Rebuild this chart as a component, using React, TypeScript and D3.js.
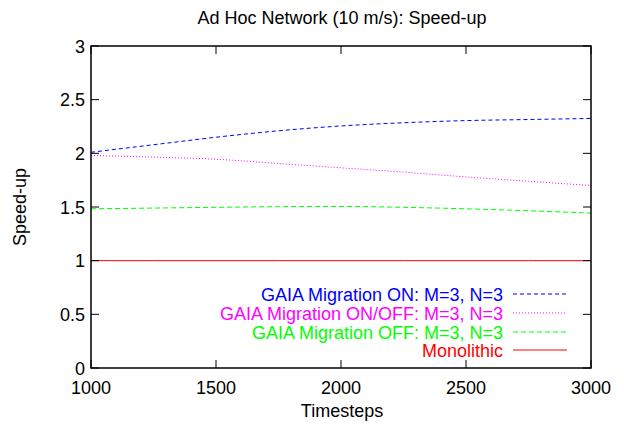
import React from "react";
import * as d3 from "d3";

const timesteps = [1000, 1250, 1500, 1750, 2000, 2250, 2500, 2750, 3000];
const migOn = [2.01, 2.08, 2.15, 2.21, 2.255, 2.285, 2.305, 2.315, 2.325];
const migOnOff = [1.98, 1.965, 1.945, 1.905, 1.865, 1.825, 1.78, 1.74, 1.7];
const migOff = [1.483, 1.49, 1.497, 1.503, 1.505, 1.497, 1.483, 1.465, 1.443];
const mono = [1, 1, 1, 1, 1, 1, 1, 1, 1];

const xTicks = [1000, 1500, 2000, 2500, 3000];
const yTicks = [0, 0.5, 1, 1.5, 2, 2.5, 3];

const series = [
  { name: "GAIA Migration ON: M=3, N=3", values: migOn, color: "#0000ff", dash: "4,3" },
  { name: "GAIA Migration ON/OFF: M=3, N=3", values: migOnOff, color: "#ff00ff", dash: "1,2" },
  { name: "GAIA Migration OFF: M=3, N=3", values: migOff, color: "#00ff00", dash: "5,3" },
  { name: "Monolithic", values: mono, color: "#ff0000", dash: null },
];

const W = 624;
const H = 425;
const margin = { top: 46, right: 33, bottom: 57, left: 91 };
const font = "'Liberation Sans', Arial, sans-serif";
const fs = 18;

export default function App() {
  const x = d3.scaleLinear().domain([1000, 3000]).range([margin.left, W - margin.right]);
  const y = d3.scaleLinear().domain([0, 3]).range([H - margin.bottom, margin.top]);
  const tick = 8;

  const line = (vals: number[]) =>
    d3
      .line<number>()
      .x((_, i) => x(timesteps[i]))
      .y((d) => y(d))
      .curve(d3.curveMonotoneX)(vals) || "";

  const legX = 503;
  const legY = [294, 313, 332, 350];

  return (
    <svg width={W} height={H} style={{ position: "absolute", left: 0, top: 0, background: "#fff" }} fontFamily={font}>
      <rect width={W} height={H} fill="#fff" />
      <text x={342} y={24} textAnchor="middle" fontSize={fs}>
        Ad Hoc Network (10 m/s): Speed-up
      </text>
      {series.map((s) => (
        <path
          key={s.name}
          d={line(s.values)}
          fill="none"
          stroke={s.color}
          strokeWidth={1}
          strokeDasharray={s.dash || undefined}
        />
      ))}
      {/* frame */}
      <rect
        x={margin.left}
        y={margin.top}
        width={W - margin.left - margin.right}
        height={H - margin.top - margin.bottom}
        fill="none"
        stroke="#000"
        strokeWidth={1.5}
      />
      {xTicks.map((t) => (
        <g key={"x" + t}>
          <line x1={x(t)} x2={x(t)} y1={y(0)} y2={y(0) - tick} stroke="#000" />
          <line x1={x(t)} x2={x(t)} y1={y(3)} y2={y(3) + tick} stroke="#000" />
          <text x={x(t)} y={394} textAnchor="middle" fontSize={fs}>
            {t}
          </text>
        </g>
      ))}
      {yTicks.map((t) => (
        <g key={"y" + t}>
          <line x1={x(1000)} x2={x(1000) + tick} y1={y(t)} y2={y(t)} stroke="#000" />
          <line x1={x(3000)} x2={x(3000) - tick} y1={y(t)} y2={y(t)} stroke="#000" />
          <text x={85} y={y(t) + 6.5} textAnchor="end" fontSize={fs}>
            {t}
          </text>
        </g>
      ))}
      <text x={342} y={417} textAnchor="middle" fontSize={fs}>
        Timesteps
      </text>
      <text transform={`translate(26,${y(1.5)}) rotate(-90)`} textAnchor="middle" fontSize={fs}>
        Speed-up
      </text>
      {series.map((s, i) => (
        <g key={"leg" + i}>
          <text x={legX} y={legY[i] + 6.5} textAnchor="end" fontSize={fs} fill={s.color}>
            {s.name}
          </text>
          <line
            x1={legX + 10}
            x2={legX + 64}
            y1={legY[i]}
            y2={legY[i]}
            stroke={s.color}
            strokeDasharray={s.dash || undefined}
          />
        </g>
      ))}
    </svg>
  );
}
